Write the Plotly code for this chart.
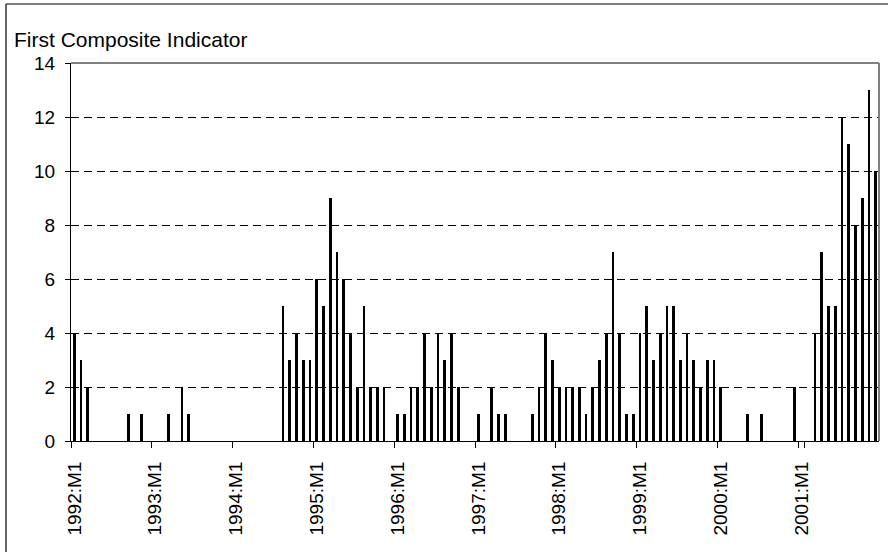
import plotly.graph_objects as go

years = list(range(1992, 2002))
months = [f"{y}:M{m}" for y in years for m in range(1, 13)]

values = [
    4, 3, 2, 0, 0, 0, 0, 0, 1, 0, 1, 0,        # 1992
    0, 0, 1, 0, 2, 1, 0, 0, 0, 0, 0, 0,        # 1993
    0, 0, 0, 0, 0, 0, 0, 5, 3, 4, 3, 3,        # 1994
    6, 5, 9, 7, 6, 4, 2, 5, 2, 2, 2, 0,        # 1995
    1, 1, 2, 2, 4, 2, 4, 3, 4, 2, 0, 0,        # 1996
    1, 0, 2, 1, 1, 0, 0, 0, 1, 2, 4, 3,        # 1997
    2, 2, 2, 2, 1, 2, 3, 4, 7, 4, 1, 1,        # 1998
    4, 5, 3, 4, 5, 5, 3, 4, 3, 2, 3, 3,        # 1999
    2, 0, 0, 0, 1, 0, 1, 0, 0, 0, 0, 2,        # 2000
    0, 0, 4, 7, 5, 5, 12, 11, 8, 9, 13, 10,    # 2001
]

tick_labels = [f"{y}:M1" for y in years]
y_ticks = [0, 2, 4, 6, 8, 10, 12, 14]

title_text = "First Composite Indicator"
FONT = "Liberation Sans, Arial, sans-serif"

fig = go.Figure()
fig.add_trace(go.Bar(
    x=months, y=values, width=0.4,
    marker=dict(color="black", line=dict(width=0)),
    showlegend=False, hoverinfo="x+y",
))

L, R, T, B = 71, 9, 63, 111
W, H = 888, 552
pw, ph = W - L - R, H - T - B

def px(xp):
    return (xp - L) / pw

def py(yp):
    return (H - B - yp) / ph

fig.update_layout(
    width=W, height=H,
    margin=dict(l=L, r=R, t=T, b=B, pad=0),
    paper_bgcolor="white", plot_bgcolor="white",
    font=dict(family=FONT, size=19, color="black"),
    bargap=0,
    xaxis=dict(
        type="category",
        categoryorder="array", categoryarray=months,
        range=[-0.5, len(months) - 0.5],
        tickmode="array", tickvals=tick_labels, ticktext=tick_labels,
        tickson="boundaries",
        tickangle=-90,
        ticks="outside", ticklen=6, tickcolor="black", tickwidth=1,
        showline=True, linecolor="black", linewidth=1,
        showgrid=False, zeroline=False,
        ticklabelstandoff=12,
        tickfont=dict(size=19, family=FONT, color="black"),
    ),
    yaxis=dict(
        range=[0, 14],
        tickmode="array", tickvals=y_ticks,
        ticks="outside", ticklen=5, tickcolor="black", tickwidth=1,
        showline=True, linecolor="black", linewidth=1,
        showgrid=True, gridcolor="black", gridwidth=1, griddash="8px,5px",
        zeroline=False,
        ticklabelstandoff=6,
        tickfont=dict(size=19, family=FONT, color="black"),
    ),
    shapes=[
        dict(type="line", xref="paper", yref="paper", x0=0, x1=1, y0=1, y1=1,
             line=dict(color="#808080", width=2), layer="above"),
        dict(type="line", xref="paper", yref="paper", x0=1, x1=1, y0=0, y1=1,
             line=dict(color="#808080", width=2), layer="above"),
        dict(type="line", xref="paper", yref="paper", x0=px(6), x1=px(900), y0=py(4), y1=py(4),
             line=dict(color="black", width=1.2)),
        dict(type="line", xref="paper", yref="paper", x0=px(6), x1=px(6), y0=py(4), y1=py(560),
             line=dict(color="black", width=1.2)),
    ],
    annotations=[
        dict(text=title_text, xref="paper", yref="paper", x=px(12), y=py(39),
             xanchor="left", yanchor="middle", showarrow=False,
             font=dict(size=21, family=FONT, color="black")),
    ],
)

fig.write_html("out.html", config={"displayModeBar": False},
               post_script="document.body.style.margin='0';")
